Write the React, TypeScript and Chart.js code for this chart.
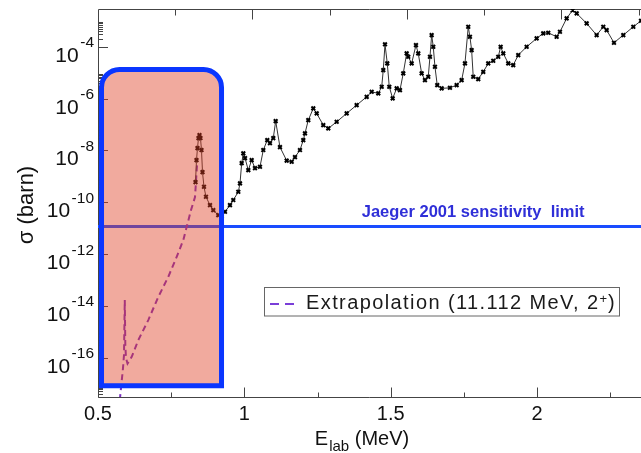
import React, { useEffect, useRef } from "react";
import { Chart, registerables } from "chart.js";

Chart.register(...registerables);

// ---- data ----
const E_LAB = [
  0.8331, 0.8365, 0.8399, 0.8433, 0.8467, 0.8501, 0.8536, 0.857, 0.8621, 0.8689,
  0.8826, 0.8938, 0.9109, 0.9226, 0.9338, 0.9509, 0.9622, 0.9793, 0.9851, 0.9909,
  0.9964, 1.0022, 1.0135, 1.025, 1.0363, 1.0534, 1.0647, 1.0783, 1.0875, 1.0988,
  1.107, 1.1217, 1.1446, 1.1617, 1.173, 1.19, 1.2013, 1.2071, 1.2184, 1.2355,
  1.2471, 1.2696, 1.2867, 1.3154, 1.3496, 1.3837, 1.4179, 1.435, 1.4576, 1.4692,
  1.4746, 1.4805, 1.4883, 1.4951, 1.5067, 1.5204, 1.5316, 1.5429, 1.5545, 1.56,
  1.5716, 1.5863, 1.5941, 1.6057, 1.617, 1.6283, 1.6341, 1.6399, 1.6454, 1.6512,
  1.659, 1.6741, 1.7024, 1.7253, 1.7424, 1.7537, 1.7649, 1.7707, 1.7765, 1.782,
  1.7991, 1.8162, 1.8332, 1.8503, 1.8674, 1.8756, 1.8845, 1.9016, 1.9186, 1.9357,
  1.9644, 1.9986, 2.0211, 2.0382, 2.0669, 2.0782, 2.1011, 2.1216, 2.1353, 2.1694,
  2.2036, 2.2262, 2.2378, 2.2628, 2.2946, 2.3288, 2.3551, 2.386,
];
const SIGMA = [
  5.97e-10, 4.22e-9, 1.23e-8, 2.99e-8, 3.9e-8, 3.0e-8, 1.03e-8, 1.45e-9, 3.93e-10, 1.62e-10,
  7.73e-11, 4.95e-11, 3.18e-11, 2.9e-11, 4.26e-11, 7.73e-11, 1.21e-10, 2.52e-10, 5.32e-10, 3.24e-9,
  7.66e-9, 5.05e-9, 1.73e-9, 4.22e-9, 2.07e-9, 2.33e-9, 1.03e-8, 2.5e-8, 1.91e-8, 2.99e-8,
  1.35e-7, 1.34e-8, 4.04e-9, 3.63e-9, 5.51e-9, 1.03e-8, 2.5e-8, 4.53e-8, 1.48e-7, 4.19e-7,
  2.69e-7, 9.48e-8, 7.07e-8, 1.27e-7, 2.69e-7, 5.61e-7, 1.17e-6, 1.83e-6, 1.59e-6, 2.86e-6,
  1.26e-5, 1.25e-4, 2.29e-5, 2.86e-6, 1.02e-6, 2.48e-6, 2.13e-6, 9.4e-6, 5.56e-5, 4.11e-5,
  2.29e-5, 1.16e-4, 5.56e-5, 9.4e-6, 5.18e-6, 6.95e-6, 4.11e-5, 2.83e-4, 1.0e-4, 1.69e-5,
  3.32e-6, 2.48e-6, 2.61e-6, 3.32e-6, 5.18e-6, 2.29e-5, 5.92e-4, 2.43e-4, 7.46e-5, 6.95e-6,
  5.66e-6, 1.08e-5, 2.29e-5, 2.88e-5, 4.11e-5, 1.0e-4, 5.56e-5, 2.29e-5, 1.96e-5, 4.79e-5,
  1.0e-4, 2.11e-4, 3.29e-4, 3.48e-4, 2.43e-4, 3.79e-4, 1.25e-3, 2.61e-3, 1.95e-3, 8.0e-4,
  2.83e-4, 5.92e-4, 4.42e-4, 1.43e-4, 2.83e-4, 5.92e-4, 1.01e-3, 1.4e-3,
];

const EXTRAP_E = [
  0.5745, 0.5803, 0.5854, 0.5888, 0.5915, 0.5933, 0.5956, 0.6008, 0.6151, 0.6377,
  0.6718, 0.706, 0.7401, 0.7688, 0.7914, 0.803, 0.8177, 0.8314, 0.8382,
];
const EXTRAP_SIGMA = [
  2.29e-18, 1.04e-17, 3.94e-17, 1.25e-16, 1.66e-14, 3.04e-16, 9.57e-17, 5.86e-17, 1.07e-16, 4.74e-16,
  2.81e-15, 2.22e-14, 1.32e-13, 7.8e-13, 3.44e-12, 1.12e-11, 4.95e-11, 1.57e-10, 2.7e-9,
];

const LIMIT_E = [0.5, 2.4];
const LIMIT_SIGMA = 1.15e-11;
const LIMIT_LABEL = "Jaeger 2001 sensitivity  limit";
const LIMIT_LABEL_E = 1.401;

// shaded region (E range, sigma range)
const BOX_E = [0.512, 0.922];
const BOX_SIGMA = [8.3e-18, 1.32e-5];

const LEGEND_TEXT = "Extrapolation (11.112 MeV, 2";
const LEGEND_SUP = "+";

// axes
const X_MIN = 0.5;
const X_MAX = 2.3551;
const Y_MIN = 3.02e-18;
const Y_MAX = 2.88e-3;
const X_MAJOR = [0.5, 1, 1.5, 2];
const X_LABELS = ["0.5", "1", "1.5", "2"];
const X_MINOR = [0.75, 1.25, 1.75, 2.25];
const TOP_MAJOR = [1.027, 1.555, 2.083];
const TOP_MINOR = [0.762, 1.291, 1.819, 2.347];
const Y_MAJOR_EXP = [-16, -14, -12, -10, -8, -6, -4];
const Y_SUB_DECADES = [-18, -16, -14, -12, -10, -8, -6, -4];

const FONT = '"Liberation Sans", Arial, Helvetica, sans-serif';

const decorPlugin = {
  id: "decor",
  beforeDatasetsDraw(chart: any) {
    const { ctx, chartArea: a, scales } = chart;
    const xs = scales.x;
    const ys = scales.y;
    ctx.save();
    ctx.strokeStyle = "#444";
    ctx.lineWidth = 1;
    ctx.beginPath();
    ctx.moveTo(a.left + 0.5, a.top + 0.5);
    ctx.lineTo(a.left + 0.5, a.bottom + 0.5);
    ctx.lineTo(a.right, a.bottom + 0.5);
    ctx.moveTo(a.left + 0.5, a.top + 0.5);
    ctx.lineTo(a.right, a.top + 0.5);
    const xt = (v: number, len: number) => {
      const p = Math.round(xs.getPixelForValue(v)) + 0.5;
      ctx.moveTo(p, a.bottom + 0.5);
      ctx.lineTo(p, a.bottom + 0.5 - len);
    };
    X_MAJOR.forEach((v) => xt(v, 10));
    X_MINOR.forEach((v) => xt(v, 5));
    const tt = (v: number, len: number) => {
      const p = Math.round(xs.getPixelForValue(v)) + 0.5;
      ctx.moveTo(p, a.top + 0.5);
      ctx.lineTo(p, a.top + 0.5 + len);
    };
    TOP_MAJOR.forEach((v) => tt(v, 10));
    TOP_MINOR.forEach((v) => tt(v, 6));
    Y_MAJOR_EXP.forEach((e) => {
      const p = Math.round(ys.getPixelForValue(Math.pow(10, e))) + 0.5;
      ctx.moveTo(a.left, p);
      ctx.lineTo(a.left + 10, p);
    });
    Y_SUB_DECADES.forEach((d) => {
      for (let m = 2; m <= 9; m++) {
        const v = m * Math.pow(10, d);
        if (v < Y_MIN || v > Y_MAX) continue;
        const p = Math.round(ys.getPixelForValue(v)) + 0.5;
        ctx.moveTo(a.left, p);
        ctx.lineTo(a.left + 5, p);
      }
    });
    ctx.stroke();
    ctx.restore();
  },
  afterDatasetsDraw(chart: any) {
    const { ctx, chartArea: a, scales } = chart;
    const xs = scales.x;
    const ys = scales.y;
    ctx.save();
    const l = xs.getPixelForValue(BOX_E[0]);
    const r = xs.getPixelForValue(BOX_E[1]);
    const t = ys.getPixelForValue(BOX_SIGMA[1]);
    const b = ys.getPixelForValue(BOX_SIGMA[0]);
    const rad = 18;
    ctx.beginPath();
    ctx.moveTo(l, b);
    ctx.lineTo(l, t + rad);
    ctx.arcTo(l, t, l + rad, t, rad);
    ctx.lineTo(r - rad, t);
    ctx.arcTo(r, t, r, t + rad, rad);
    ctx.lineTo(r, b);
    ctx.closePath();
    ctx.fillStyle = "rgba(222, 62, 34, 0.44)";
    ctx.fill();
    ctx.lineWidth = 5;
    ctx.lineJoin = "miter";
    ctx.strokeStyle = "#0a36ff";
    ctx.stroke();

    ctx.fillStyle = "#2f2fd8";
    ctx.font = `bold 16.5px ${FONT}`;
    ctx.textAlign = "left";
    ctx.textBaseline = "alphabetic";
    ctx.fillText(LIMIT_LABEL, xs.getPixelForValue(LIMIT_LABEL_E), ys.getPixelForValue(LIMIT_SIGMA) - 10);

    // legend
    ctx.fillStyle = "#fff";
    ctx.fillRect(264.5, 287.5, 355, 28.5);
    ctx.strokeStyle = "#666";
    ctx.lineWidth = 1;
    ctx.strokeRect(264.5, 287.5, 355, 28.5);
    ctx.strokeStyle = "#7a3ed8";
    ctx.lineWidth = 2;
    ctx.setLineDash([9, 6]);
    ctx.beginPath();
    ctx.moveTo(270, 304);
    ctx.lineTo(295, 304);
    ctx.stroke();
    ctx.setLineDash([]);
    ctx.fillStyle = "#1a1a1a";
    ctx.font = `20px ${FONT}`;
    (ctx as any).letterSpacing = "1.4px";
    ctx.fillText(LEGEND_TEXT, 306, 309);
    const w = ctx.measureText(LEGEND_TEXT).width;
    ctx.font = `13px ${FONT}`;
    (ctx as any).letterSpacing = "0px";
    ctx.fillText(LEGEND_SUP, 306 + w, 303);
    const w2 = ctx.measureText(LEGEND_SUP).width;
    ctx.font = `20px ${FONT}`;
    ctx.fillText(")", 306 + w + w2 + 1, 309);

    // x tick labels
    ctx.fillStyle = "#111";
    ctx.font = `20px ${FONT}`;
    ctx.textAlign = "center";
    X_MAJOR.forEach((v, i) => {
      ctx.fillText(X_LABELS[i], xs.getPixelForValue(v), a.bottom + 23);
    });
    // y tick labels 10^e
    Y_MAJOR_EXP.forEach((e) => {
      const p = ys.getPixelForValue(Math.pow(10, e));
      const sup = String(e);
      ctx.textAlign = "right";
      ctx.font = `15.5px ${FONT}`;
      const sw = ctx.measureText(sup).width;
      ctx.fillText(sup, a.left - 4, p + 0.5);
      ctx.font = `21px ${FONT}`;
      ctx.fillText("10", a.left - 4 - sw - 1.5, p + 15);
    });

    // x title: E_lab (MeV)
    ctx.textAlign = "left";
    ctx.font = `20px ${FONT}`;
    const wE = ctx.measureText("E").width;
    ctx.font = `15px ${FONT}`;
    const wLab = ctx.measureText("lab").width;
    ctx.font = `20px ${FONT}`;
    const wM = ctx.measureText(" (MeV)").width;
    const total = wE + 1 + wLab + wM;
    let x0 = 362 - total / 2;
    ctx.fillText("E", x0, 445);
    x0 += wE + 1;
    ctx.font = `15px ${FONT}`;
    ctx.fillText("lab", x0, 451);
    x0 += wLab;
    ctx.font = `20px ${FONT}`;
    ctx.fillText(" (MeV)", x0, 445);

    // y title
    ctx.save();
    ctx.translate(33, 205);
    ctx.rotate(-Math.PI / 2);
    ctx.textAlign = "center";
    ctx.font = `22px ${FONT}`;
    ctx.fillText("\u03c3 (barn)", 0, 0);
    ctx.restore();

    ctx.restore();
  },
};

export default function App() {
  const ref = useRef<HTMLCanvasElement>(null);
  useEffect(() => {
    const canvas = ref.current;
    if (!canvas) return;
    const main = E_LAB.map((x, i) => ({ x, y: SIGMA[i] }));
    const extrap = EXTRAP_E.map((x, i) => ({ x, y: EXTRAP_SIGMA[i] }));
    const limit = LIMIT_E.map((x) => ({ x, y: LIMIT_SIGMA }));
    const chart = new Chart(canvas, {
      type: "line",
      data: {
        datasets: [
          {
            label: "data",
            data: main,
            borderColor: "#333",
            borderWidth: 1,
            pointStyle: "crossRot",
            pointRadius: 2.6,
            pointBorderWidth: 2,
            pointBorderColor: "#000",
            pointBackgroundColor: "#000",
            tension: 0,
          },
          {
            label: "Extrapolation",
            data: extrap,
            borderColor: "#7a2fc0",
            borderWidth: 2,
            borderDash: [6, 4],
            pointRadius: 0,
            tension: 0,
          },
          {
            label: "limit",
            data: limit,
            borderColor: "#1a4cff",
            borderWidth: 3,
            pointRadius: 0,
          },
        ],
      },
      options: {
        animation: false,
        responsive: false,
        devicePixelRatio: 1,
        events: [],
        layout: { autoPadding: false, padding: { left: 98, top: 9, right: 0, bottom: 56 } },
        scales: {
          x: { type: "linear", min: X_MIN, max: X_MAX, bounds: "data", display: false },
          y: { type: "logarithmic", min: Y_MIN, max: Y_MAX, bounds: "data", display: false },
        },
        plugins: { legend: { display: false }, tooltip: { enabled: false } },
      },
      plugins: [decorPlugin],
    });
    return () => chart.destroy();
  }, []);
  return (
    <canvas
      ref={ref}
      width={641}
      height={453}
      style={{ position: "absolute", left: 0, top: 0, width: 641, height: 453, display: "block", background: "#fff" }}
    />
  );
}
